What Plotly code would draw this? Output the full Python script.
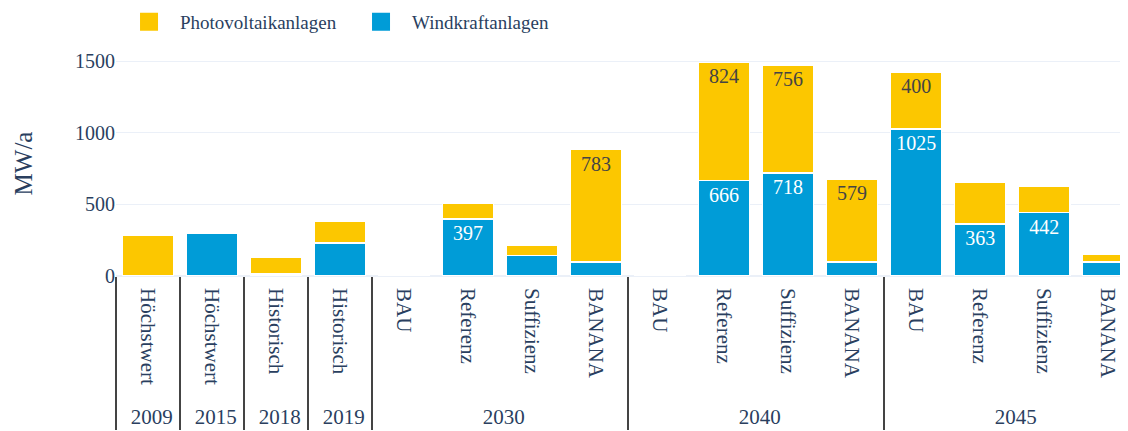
import plotly.graph_objects as go

years = ["2009", "2015", "2018", "2019",
         "2030", "2030", "2030", "2030",
         "2040", "2040", "2040", "2040",
         "2045", "2045", "2045", "2045"]
scenarios = ["Höchstwert", "Höchstwert", "Historisch", "Historisch",
             "BAU", "Referenz", "Suffizienz", "BANANA",
             "BAU", "Referenz", "Suffizienz", "BANANA",
             "BAU", "Referenz", "Suffizienz", "BANANA"]
pv = [281, 0, 114, 152, 0, 112, 72, 783, 0, 824, 756, 579, 400, 288, 184, 56]
wind = [0, 295, 14, 230, 0, 397, 144, 98, 0, 666, 718, 98, 1025, 363, 442, 98]

PV_NAME = "Photovoltaikanlagen"
WIND_NAME = "Windkraftanlagen"
PV_COLOR = "#FCC700"
WIND_COLOR = "#009CD7"
FONT = "Liberation Serif"
LABEL_MIN = 350
PAD = "\u00a0\u00a0"  # non-breaking padding so the year row sits lower

x = [years, [s + PAD for s in scenarios]]

def labels(vals):
    return [str(v) if v >= LABEL_MIN else "" for v in vals]

fig = go.Figure()
fig.add_trace(go.Bar(
    x=x, y=wind, name=WIND_NAME, marker=dict(color=WIND_COLOR, line=dict(color="white", width=1.5)),
    text=labels(wind), textposition="inside", insidetextanchor="end", textangle=0,
    textfont=dict(color="white", size=20, family=FONT), showlegend=False,
))
fig.add_trace(go.Bar(
    x=x, y=pv, name=PV_NAME, marker=dict(color=PV_COLOR, line=dict(color="white", width=1.5)),
    text=labels(pv), textposition="inside", insidetextanchor="end", textangle=0,
    textfont=dict(color="#444444", size=20, family=FONT), showlegend=False,
))
# legend entries
for nm, col in [(PV_NAME, PV_COLOR), (WIND_NAME, WIND_COLOR)]:
    fig.add_trace(go.Scatter(
        x=[[x[0][0]], [x[1][0]]], y=[None], mode="markers", name=nm,
        marker=dict(symbol="square", size=16, color=col, line=dict(color=col, width=2)),
        showlegend=True, hoverinfo="skip",
    ))

fig.update_layout(
    template="plotly_white",
    width=1120, height=423,
    margin=dict(l=108, r=0, t=43, b=155, autoexpand=False),
    barmode="stack",
    bargap=0.2,
    font=dict(family=FONT, size=20, color="#2a3f5f"),
    legend=dict(orientation="h", x=0.002, y=1.129, xanchor="left", yanchor="middle",
                traceorder="normal", font=dict(size=19, family=FONT), itemwidth=52,
                entrywidth=165),
    xaxis=dict(
        type="multicategory", tickangle=90, showgrid=False,
        range=[-0.5, 15.31], autorange=False,
        showdividers=True, dividercolor="#444444", dividerwidth=2,
        tickfont=dict(size=21, family=FONT), automargin=False,
        ticklabelstandoff=11,
    ),
    yaxis=dict(
        title=dict(text="MW/a", font=dict(size=25, family=FONT), standoff=35),
        range=[0, 1570], tickvals=[0, 500, 1000, 1500],
        ticks="",
        gridcolor="#EBF0F8", zeroline=True, zerolinecolor="#EBF0F8", zerolinewidth=2,
        tickfont=dict(size=20, family=FONT), automargin=False,
    ),
)

fig.write_html("out.html")
